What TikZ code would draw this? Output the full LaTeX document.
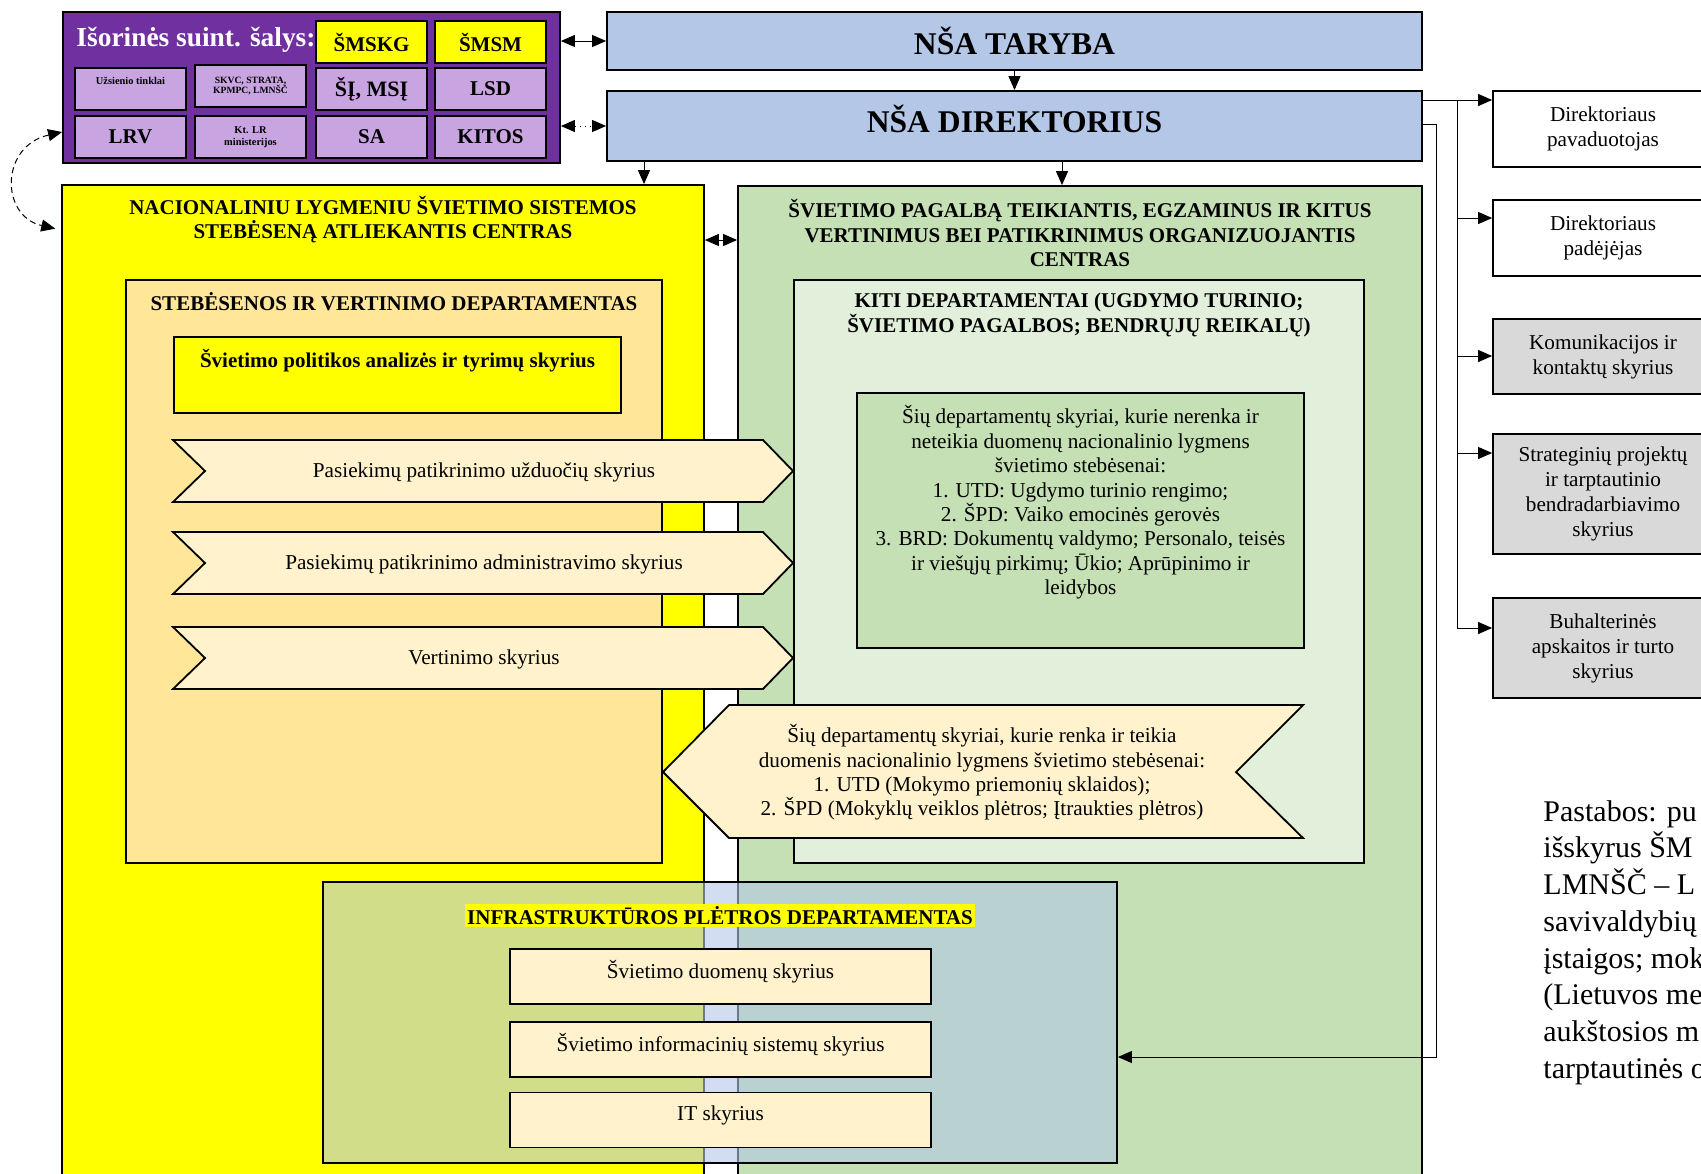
\documentclass[tikz,border=0pt]{standalone}
\usepackage{fontspec}
\setmainfont{Liberation Serif}
\usepackage{xcolor}
\usepackage{tikz}
\usetikzlibrary{shapes,arrows,positioning,calc,arrows.meta}

\definecolor{nsapurple}{HTML}{7030A0}
\definecolor{nsalilac}{HTML}{C8A4E0}
\definecolor{nsayellow}{HTML}{FFFF00}
\definecolor{nsablue}{HTML}{B4C7E7}
\definecolor{nsagreen}{HTML}{C5E0B4}
\definecolor{nsalight}{HTML}{E2EFDA}
\definecolor{nsaorange}{HTML}{FFE699}
\definecolor{nsacream}{HTML}{FFF2CC}
\definecolor{nsagrey}{HTML}{D9D9D9}

\begin{document}
\begin{tikzpicture}[>={Triangle[length=7pt,width=6pt]}, x=0.5pt, y=-0.5pt,
    every node/.style={font=\fontsize{10.6}{12.2}\selectfont, align=center},
    box/.style={draw, line width=0.9pt, inner sep=0pt},
    cell/.style={box, fill=nsalilac, minimum width=55.5pt, minimum height=21pt, font=\fontsize{10.5}{12}\selectfont\bfseries},
    tinycell/.style={cell, font=\fontsize{5.2}{6}\selectfont\bfseries},
    head/.style={font=\fontsize{10.5}{12.3}\selectfont\bfseries},
    title/.style={box, fill=nsablue, minimum width=407.5pt, font=\fontsize{15.8}{18}\selectfont\bfseries},
    chev/.style={draw, line width=0.9pt, fill=nsacream},
    infrabox/.style={box, fill=nsacream, minimum width=210.5pt, minimum height=27.5pt, text depth=7pt},
    side/.style={box, minimum width=110pt, font=\fontsize{10.6}{12.5}\selectfont},
    link/.style={line width=0.5pt}]
    \useasboundingbox (0,0) rectangle (1701,1173);

    % Isorines suinteresuotos salys
    \node[box, fill=nsapurple, minimum width=248.5pt, minimum height=75.5pt] (ext) at (311.5,87.5) {};
    \node[font=\fontsize{13.7}{15}\selectfont\bfseries, text=white] (extT) at (196,40) {Išorinės suint. šalys:};
    \node[cell, fill=nsayellow] (smskg) at (371.5,42) {ŠMSKG};
    \node[cell, fill=nsayellow] (smsm) at (490.5,42) {ŠMSM};
    \node[tinycell, text depth=8pt] (uzs) at (130.5,89) {Užsienio tinklai};
    \node[tinycell, font=\fontsize{4.8}{5.4}\selectfont\bfseries] (skvc) at (250.5,86) {SKVC, STRATA,\\KPMPC, LMNŠČ};
    \node[cell, font=\fontsize{11}{12}\selectfont\bfseries] (sjmsi) at (371.5,89) {ŠĮ, MSĮ};
    \node[cell] (lsd) at (490.5,89) {LSD};
    \node[cell] (lrv) at (130.5,137) {LRV};
    \node[tinycell] (ktlr) at (250.5,137) {Kt. LR\\ministerijos};
    \node[cell] (sa) at (371.5,137) {SA};
    \node[cell] (kitos) at (490.5,137) {KITOS};

    % Taryba ir direktorius
    \node[title, minimum height=29pt] (taryba) at (1014.5,41) {NŠA TARYBA};
    \node[title, minimum height=35pt, text depth=7pt] (dir) at (1014.5,126) {NŠA DIREKTORIUS};
    \draw[link, ->] (taryba) -- (dir);
    \draw[link, <->] (ext.east |- taryba.west) -- (taryba.west);
    \draw[link, <->, dotted] (ext.east |- dir.west) -- (dir.west);

    % Centrai
    \node[box, fill=nsayellow, minimum width=321pt, minimum height=507.5pt] (nls) at (383,692.5) {};
    \node[head] (nlsT) at (383,219.5) {NACIONALINIU LYGMENIU ŠVIETIMO SISTEMOS\\STEBĖSENĄ ATLIEKANTIS CENTRAS};
    \node[box, fill=nsagreen, minimum width=342pt, minimum height=507pt] (spc) at (1080,693) {};
    \node[head] (spcT) at (1080,233) {ŠVIETIMO PAGALBĄ TEIKIANTIS, EGZAMINUS IR KITUS\\VERTINIMUS BEI PATIKRINIMUS ORGANIZUOJANTIS\\CENTRAS};
    \draw[link, ->] (dir.south -| 644,0) -- (nls.north -| 644,0);
    \draw[link, ->] (dir.south -| 1062,0) -- (spc.north -| 1062,0);
    \draw[link, <->] (nls.east |- 0,240) -- (spc.west |- 0,240);
    \draw[link, <->, dashed, dash pattern=on 3pt off 2pt, shorten >=3pt] (ext.west |- 0,132) .. controls (0,146) and (0,216) .. (nls.west |- 0,230);

    % Stebesenos ir vertinimo departamentas
    \node[box, fill=nsaorange, minimum width=268pt, minimum height=291.5pt] (svd) at (394,571.5) {};
    \node[head] (svdT) at (394,302) {STEBĖSENOS IR VERTINIMO DEPARTAMENTAS};
    \node[box, fill=nsayellow, minimum width=223.5pt, minimum height=38pt, text depth=17pt, head] (spa) at (397.5,375) {Švietimo politikos analizės ir tyrimų skyrius};

    % Kiti departamentai
    \node[box, fill=nsalight, minimum width=285pt, minimum height=291.5pt] (kiti) at (1079,571.5) {};
    \node[head] (kitiT) at (1079,315) {KITI DEPARTAMENTAI (UGDYMO TURINIO;\\ŠVIETIMO PAGALBOS; BENDRŲJŲ REIKALŲ)};
    \node[box, fill=nsagreen, minimum width=223.5pt, minimum height=127.5pt] (nerenka) at (1080.5,520.5) {};
    \node (nerenkaT) at (1080.5,502.5) {Šių departamentų skyriai, kurie nerenka ir\\neteikia duomenų nacionalinio lygmens\\švietimo stebėsenai:\\1. UTD: Ugdymo turinio rengimo;\\2. ŠPD: Vaiko emocinės gerovės\\3. BRD: Dokumentų valdymo; Personalo, teisės\\ir viešųjų pirkimų; Ūkio; Aprūpinimo ir\\leidybos};

    % Skyriai (rodykles)
    \draw[chev] (173,440) -- (763,440) -- (793,471) -- (763,502) -- (173,502) -- (205,471) -- cycle;
    \node (psu) at (484,472) {Pasiekimų patikrinimo užduočių skyrius};
    \draw[chev] (173,532) -- (763,532) -- (793,563) -- (763,594) -- (173,594) -- (205,563) -- cycle;
    \node (psa) at (484,564) {Pasiekimų patikrinimo administravimo skyrius};
    \draw[chev] (173,627) -- (763,627) -- (793,658) -- (763,689) -- (173,689) -- (205,658) -- cycle;
    \node (vs) at (484,659) {Vertinimo skyrius};
    \draw[chev] (663,772) -- (729,705) -- (1303,705) -- (1236,772) -- (1303,838) -- (729,838) -- cycle;
    \node (renka) at (982,772.5) {Šių departamentų skyriai, kurie renka ir teikia\\duomenis nacionalinio lygmens švietimo stebėsenai:\\1. UTD (Mokymo priemonių sklaidos);\\2. ŠPD (Mokyklų veiklos plėtros; Įtraukties plėtros)};

    % Infrastrukturos pletros departamentas
    \node[box, fill=nsablue, fill opacity=0.6, minimum width=397pt, minimum height=140.5pt] (ipd) at (720,1022.5) {};
    \node[head, fill=nsayellow, inner sep=1pt] (ipdT) at (720,915.5) {INFRASTRUKTŪROS PLĖTROS DEPARTAMENTAS};
    \node[infrabox] (sds) at (720.5,976.5) {Švietimo duomenų skyrius};
    \node[infrabox] (sis) at (720.5,1049.5) {Švietimo informacinių sistemų skyrius};
    \node[infrabox] (its) at (720.5,1120) {IT skyrius};

    % Direktoriui pavaldus
    \node[side, fill=white, minimum height=38pt] (dpav) at (1603,129) {Direktoriaus\\pavaduotojas};
    \node[side, fill=white, minimum height=38pt] (dpad) at (1603,238) {Direktoriaus\\padėjėjas};
    \node[side, fill=nsagrey, minimum height=37.5pt] (kom) at (1603,356.5) {Komunikacijos ir\\kontaktų skyrius};
    \node[side, fill=nsagrey, minimum height=60pt] (strat) at (1603,494) {Strateginių projektų\\ir tarptautinio\\bendradarbiavimo\\skyrius};
    \node[side, fill=nsagrey, minimum height=50pt] (bap) at (1603,648) {Buhalterinės\\apskaitos ir turto\\skyrius};
    \coordinate (trunkA) at (1457,100);
    \draw[link, ->] (dir.east |- trunkA) -- (dpav.west |- trunkA);
    \draw[link] (trunkA) -- (trunkA |- 0,628);
    \draw[link, ->] (trunkA |- 0,218) -- (dpad.west |- 0,218);
    \draw[link, ->] (trunkA |- 0,356) -- (kom.west |- 0,356);
    \draw[link, ->] (trunkA |- 0,453) -- (strat.west |- 0,453);
    \draw[link, ->] (trunkA |- 0,628) -- (bap.west |- 0,628);
    \coordinate (trunkB) at (1436,124);
    \draw[link, ->] (dir.east |- trunkB) -- (trunkB) |- (ipd.east |- 0,1057);

    % Pastabos
    \node[anchor=north west, inner sep=0pt, align=left, font=\fontsize{15}{18.35}\selectfont] (pastabos) at (1543,800) {Pastabos: pu\\išskyrus ŠM\\LMNŠČ – L\\savivaldybių\\įstaigos; mok\\(Lietuvos me\\aukštosios m\\tarptautinės o};
\end{tikzpicture}
\end{document}
